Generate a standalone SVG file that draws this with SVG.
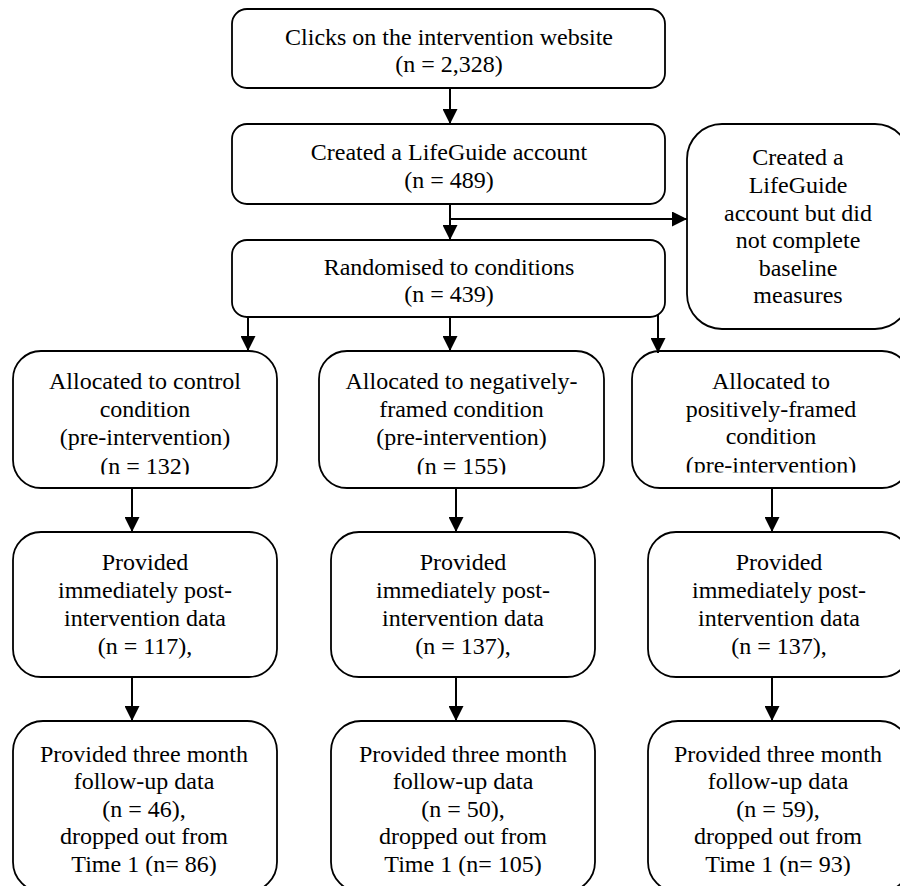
<svg xmlns="http://www.w3.org/2000/svg" width="900" height="886" viewBox="0 0 900 886">
<style>
.box{fill:#fff;stroke:#000;stroke-width:1.8}
.t{font-family:'Liberation Serif','Times New Roman',serif;font-size:24px;fill:#000;text-anchor:middle}
.c{stroke:#000;stroke-width:2;fill:none}
</style>
<defs>
<marker id="ah" markerUnits="userSpaceOnUse" markerWidth="15" markerHeight="15" refX="15" refY="7.5" orient="auto">
<path d="M0,0 L15,7.5 L0,15 z" fill="#000"/>
</marker>
<clipPath id="clipA"><rect x="0" y="340" width="900" height="134.5"/></clipPath>
<clipPath id="clipB"><rect x="0" y="340" width="900" height="132.5"/></clipPath>
<clipPath id="clipC"><rect x="0" y="725" width="900" height="151"/></clipPath>
</defs>
<rect width="900" height="886" fill="#fff"/>

<g id="n1">
<rect class="box" x="232" y="9" width="433" height="79" rx="15"/>
<text class="t" x="449" y="45">Clicks on the intervention website</text>
<text class="t" x="449" y="72">(n = 2,328)</text>
</g>

<g id="n2">
<rect class="box" x="232" y="124" width="433" height="80" rx="15"/>
<text class="t" x="449" y="160">Created a LifeGuide account</text>
<text class="t" x="449" y="188">(n = 489)</text>
</g>

<g id="n3">
<rect class="box" x="687" y="124" width="223" height="205" rx="35"/>
<text class="t" x="798" y="165">Created a</text>
<text class="t" x="798" y="193">LifeGuide</text>
<text class="t" x="798" y="221">account but did</text>
<text class="t" x="798" y="248">not complete</text>
<text class="t" x="798" y="276">baseline</text>
<text class="t" x="798" y="303">measures</text>
</g>

<g id="n4">
<rect class="box" x="232" y="240" width="433" height="77" rx="15"/>
<text class="t" x="449" y="275">Randomised to conditions</text>
<text class="t" x="449" y="302">(n = 439)</text>
</g>

<g id="n5">
<rect class="box" x="13" y="351" width="264" height="137" rx="28"/>
<g clip-path="url(#clipA)">
<text class="t" x="145" y="389">Allocated to control</text>
<text class="t" x="145" y="417">condition</text>
<text class="t" x="145" y="445">(pre-intervention)</text>
<text class="t" x="145" y="474">(n = 132)</text>
</g>
</g>

<g id="n6">
<rect class="box" x="319" y="351" width="285" height="137" rx="28"/>
<g clip-path="url(#clipA)">
<text class="t" x="461.5" y="389">Allocated to negatively-</text>
<text class="t" x="461.5" y="417">framed condition</text>
<text class="t" x="461.5" y="445">(pre-intervention)</text>
<text class="t" x="461.5" y="474">(n = 155)</text>
</g>
</g>

<g id="n7">
<rect class="box" x="632" y="351" width="278" height="137" rx="28"/>
<g clip-path="url(#clipB)">
<text class="t" x="771" y="389">Allocated to</text>
<text class="t" x="771" y="417">positively-framed</text>
<text class="t" x="771" y="444">condition</text>
<text class="t" x="771" y="473">(pre-intervention)</text>
</g>
</g>

<g id="n8">
<rect class="box" x="13" y="532" width="264" height="145" rx="28"/>
<text class="t" x="145" y="570">Provided</text>
<text class="t" x="145" y="598">immediately post-</text>
<text class="t" x="145" y="626">intervention data</text>
<text class="t" x="145" y="654">(n = 117),</text>
</g>

<g id="n9">
<rect class="box" x="331" y="532" width="264" height="145" rx="28"/>
<text class="t" x="463" y="570">Provided</text>
<text class="t" x="463" y="598">immediately post-</text>
<text class="t" x="463" y="626">intervention data</text>
<text class="t" x="463" y="654">(n = 137),</text>
</g>

<g id="n10">
<rect class="box" x="648" y="532" width="262" height="145" rx="28"/>
<text class="t" x="779" y="570">Provided</text>
<text class="t" x="779" y="598">immediately post-</text>
<text class="t" x="779" y="626">intervention data</text>
<text class="t" x="779" y="654">(n = 137),</text>
</g>

<g id="n11">
<rect class="box" x="13" y="721" width="264" height="171" rx="30"/>
<g clip-path="url(#clipC)">
<text class="t" x="144" y="762">Provided three month</text>
<text class="t" x="144" y="789">follow-up data</text>
<text class="t" x="144" y="817">(n = 46),</text>
<text class="t" x="144" y="844">dropped out from</text>
<text class="t" x="144" y="872">Time 1 (n= 86)</text>
</g>
</g>

<g id="n12">
<rect class="box" x="331" y="721" width="264" height="171" rx="30"/>
<g clip-path="url(#clipC)">
<text class="t" x="463" y="762">Provided three month</text>
<text class="t" x="463" y="789">follow-up data</text>
<text class="t" x="463" y="817">(n = 50),</text>
<text class="t" x="463" y="844">dropped out from</text>
<text class="t" x="463" y="872">Time 1 (n= 105)</text>
</g>
</g>

<g id="n13">
<rect class="box" x="648" y="721" width="262" height="171" rx="30"/>
<g clip-path="url(#clipC)">
<text class="t" x="778" y="762">Provided three month</text>
<text class="t" x="778" y="789">follow-up data</text>
<text class="t" x="778" y="817">(n = 59),</text>
<text class="t" x="778" y="844">dropped out from</text>
<text class="t" x="778" y="872">Time 1 (n= 93)</text>
</g>
</g>

<g id="connectors">
<line class="c" x1="450" y1="88" x2="450" y2="124" marker-end="url(#ah)"/>
<line class="c" x1="450" y1="204" x2="450" y2="240" marker-end="url(#ah)"/>
<line class="c" x1="450" y1="219" x2="687" y2="219" marker-end="url(#ah)"/>
<line class="c" x1="248" y1="317" x2="248" y2="351" marker-end="url(#ah)"/>
<line class="c" x1="450" y1="317" x2="450" y2="351" marker-end="url(#ah)"/>
<line class="c" x1="658" y1="314" x2="658" y2="353" marker-end="url(#ah)"/>
<line class="c" x1="132" y1="488" x2="132" y2="532" marker-end="url(#ah)"/>
<line class="c" x1="456" y1="488" x2="456" y2="532" marker-end="url(#ah)"/>
<line class="c" x1="772" y1="488" x2="772" y2="532" marker-end="url(#ah)"/>
<line class="c" x1="132" y1="677" x2="132" y2="721" marker-end="url(#ah)"/>
<line class="c" x1="456" y1="677" x2="456" y2="721" marker-end="url(#ah)"/>
<line class="c" x1="772" y1="677" x2="772" y2="721" marker-end="url(#ah)"/>
</g>
</svg>
